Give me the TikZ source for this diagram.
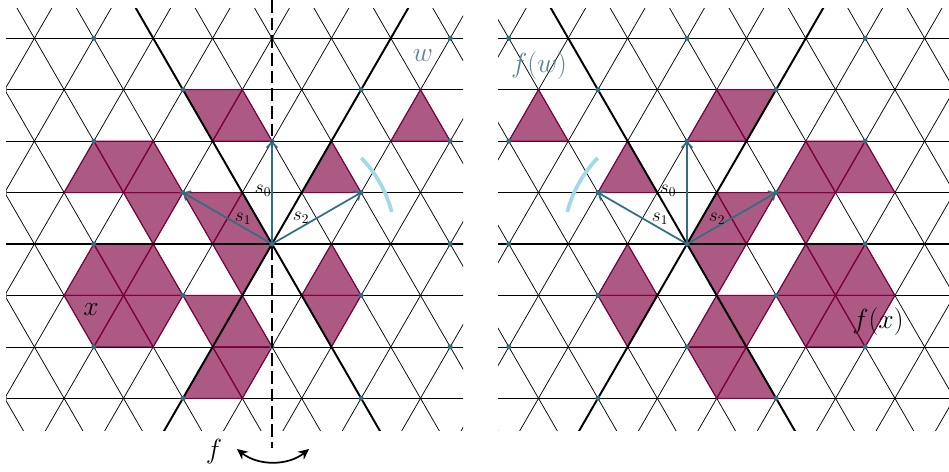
\documentclass[tikz,border=0pt]{standalone}
\usetikzlibrary{arrows.meta}
\definecolor{crim}{RGB}{128,0,64}
\definecolor{tealc}{RGB}{47,111,128}
\definecolor{lblc}{RGB}{94,132,153}
\definecolor{lbluec}{RGB}{163,216,230}
\tikzset{
  thinline/.style={line width=0.55pt, black},
  thickline/.style={line width=1.45pt, black},
  tri/.style={fill=crim, fill opacity=0.65, draw=crim, line width=0.8pt},
  dotmark/.style={fill=tealc, draw=none},
  sarrow/.style={draw=tealc, line width=1.3pt, -{Straight Barb[length=4pt,width=8pt]}},
  swing/.style={lbluec, line width=2.8pt},
  slabel/.style={font=\Large, inner sep=0pt},
  biglabel/.style={font=\huge, inner sep=0pt},
  dashline/.style={line width=1.5pt, dash pattern=on 9.5pt off 3.75pt},
  fliparrow/.style={line width=1.3pt, {Stealth[length=8pt,width=7.5pt]}-{Stealth[length=8pt,width=7.5pt]}},
}
\newcommand{\latticegrid}{%
  \foreach \m in {-5,...,5} \draw[thinline] (-7,\m) -- (7,\m);
  \foreach \k in {-10,...,10} {\draw[thinline] (\k-3,-6) -- (\k+3,6); \draw[thinline] (\k+3,-6) -- (\k-3,6);}
}
\newcommand{\fillset}{%
  \filldraw[tri] (-1.5,3)--(-0.5,3)--(-1,2)--cycle;
  \filldraw[tri] (-1,2)--(-0.5,3)--(0,2)--cycle;
  \filldraw[tri] (2,2)--(3,2)--(2.5,3)--cycle;
  \filldraw[tri] (-3.5,1)--(-2.5,1)--(-3,2)--cycle;
  \filldraw[tri] (-3,2)--(-2,2)--(-2.5,1)--cycle;
  \filldraw[tri] (-2.5,1)--(-1.5,1)--(-2,2)--cycle;
  \filldraw[tri] (-2.5,1)--(-1.5,1)--(-2,0)--cycle;
  \filldraw[tri] (-1.5,1)--(-0.5,1)--(-1,0)--cycle;
  \filldraw[tri] (-1,0)--(-0.5,1)--(0,0)--cycle;
  \filldraw[tri] (0.5,1)--(1.5,1)--(1,2)--cycle;
  \filldraw[tri] (-2.5,-1)--(-3,0)--(-2,0)--cycle;
  \filldraw[tri] (-2.5,-1)--(-2,0)--(-1.5,-1)--cycle;
  \filldraw[tri] (-2.5,-1)--(-1.5,-1)--(-2,-2)--cycle;
  \filldraw[tri] (-2.5,-1)--(-2,-2)--(-3,-2)--cycle;
  \filldraw[tri] (-2.5,-1)--(-3,-2)--(-3.5,-1)--cycle;
  \filldraw[tri] (-2.5,-1)--(-3.5,-1)--(-3,0)--cycle;
  \filldraw[tri] (-1,0)--(0,0)--(-0.5,-1)--cycle;
  \filldraw[tri] (-1.5,-1)--(-0.5,-1)--(-1,-2)--cycle;
  \filldraw[tri] (-1,-2)--(-0.5,-1)--(0,-2)--cycle;
  \filldraw[tri] (-1,-2)--(0,-2)--(-0.5,-3)--cycle;
  \filldraw[tri] (-1.5,-3)--(-1,-2)--(-0.5,-3)--cycle;
  \filldraw[tri] (0.5,-1)--(1.5,-1)--(1,0)--cycle;
  \filldraw[tri] (0.5,-1)--(1.5,-1)--(1,-2)--cycle;
}
\newcommand{\thickset}{%
  \draw[thickline] (-7,0) -- (7,0);
  \draw[thickline] (-3,-6) -- (3,6);
  \draw[thickline] (3,-6) -- (-3,6);
}
\newcommand{\dotset}{%
  \foreach \m in {-4,-2,0,2,4} \foreach \u in {-6,-3,0,3,6} \fill[dotmark] (\u,\m) circle[radius=1.9pt];
  \foreach \m in {-3,-1,1,3,5} \foreach \u in {-4.5,-1.5,1.5,4.5} \fill[dotmark] (\u,\m) circle[radius=1.9pt];
}
\begin{document}
\begin{tikzpicture}[x=0.75pt,y=-0.75pt]
\useasboundingbox (0,0) rectangle (949,471);
% ---------- left panel
\begin{scope}
  \clip (6,8) rectangle (463,430);
  \begin{scope}[shift={(204pt,-183pt)}, x={(44.55pt,0pt)}, y={(0pt,38.58pt)}]
    \latticegrid
    \fillset
    \thickset
    \dotset
    \coordinate (LO) at (0,0);
    \coordinate (Ls0) at (0,2);
    \coordinate (Ls1) at (-1.5,1);
    \coordinate (Ls2) at (1.5,1);
  \end{scope}
\end{scope}
% ---------- right panel (mirror image)
\begin{scope}
  \clip (498,8) rectangle (949,430);
  \begin{scope}[shift={(515.25pt,-183pt)}, x={(-44.55pt,0pt)}, y={(0pt,38.58pt)}]
    \latticegrid
    \fillset
    \thickset
    \dotset
    \coordinate (RO) at (0,0);
    \coordinate (Rs0) at (0,2);
    \coordinate (Rs1) at (1.5,1);
    \coordinate (Rs2) at (-1.5,1);
  \end{scope}
\end{scope}
% dashed mirror axis
\coordinate (dtop) at (272,0);
\coordinate (dbot) at (272,448);
\draw[dashline] (dtop) -- (dbot);
% arrows s0 s1 s2
\draw[sarrow] (LO) -- (Ls0);
\draw[sarrow] (LO) -- (Ls1);
\draw[sarrow] (LO) -- (Ls2);
\draw[sarrow] (RO) -- (Rs0);
\draw[sarrow] (RO) -- (Rs1);
\draw[sarrow] (RO) -- (Rs2);
% light blue arcs
\draw[swing] ([shift={(15:93pt)}]LO) arc[start angle=15, end angle=44, radius=93pt];
\draw[swing] ([shift={(136:93pt)}]RO) arc[start angle=136, end angle=165, radius=93pt];
% labels
\node[slabel] (ls0) at (263,191) {$s_0$};
\node[slabel] (ls1) at (243,219) {$s_1$};
\node[slabel] (ls2) at (301,218) {$s_2$};
\node[slabel] (rs0) at (668,191) {$s_0$};
\node[slabel] (rs1) at (660,219) {$s_1$};
\node[slabel] (rs2) at (717,219) {$s_2$};
\node[biglabel, text=lblc] (lw) at (423,56) {$w$};
\node[biglabel, text=lblc] (rw) at (539,66) {$f(w)$};
\node[biglabel] (lx) at (91,310) {$x$};
\node[biglabel] (rx) at (878,322) {$f(x)$};
\node[biglabel] (flab) at (214,452) {$f$};
% flip arrow
\coordinate (fa) at (237,449);
\coordinate (fb) at (309,449);
\draw[fliparrow] (fa) .. controls (258,466) and (288,466) .. (fb);
\end{tikzpicture}
\end{document}
